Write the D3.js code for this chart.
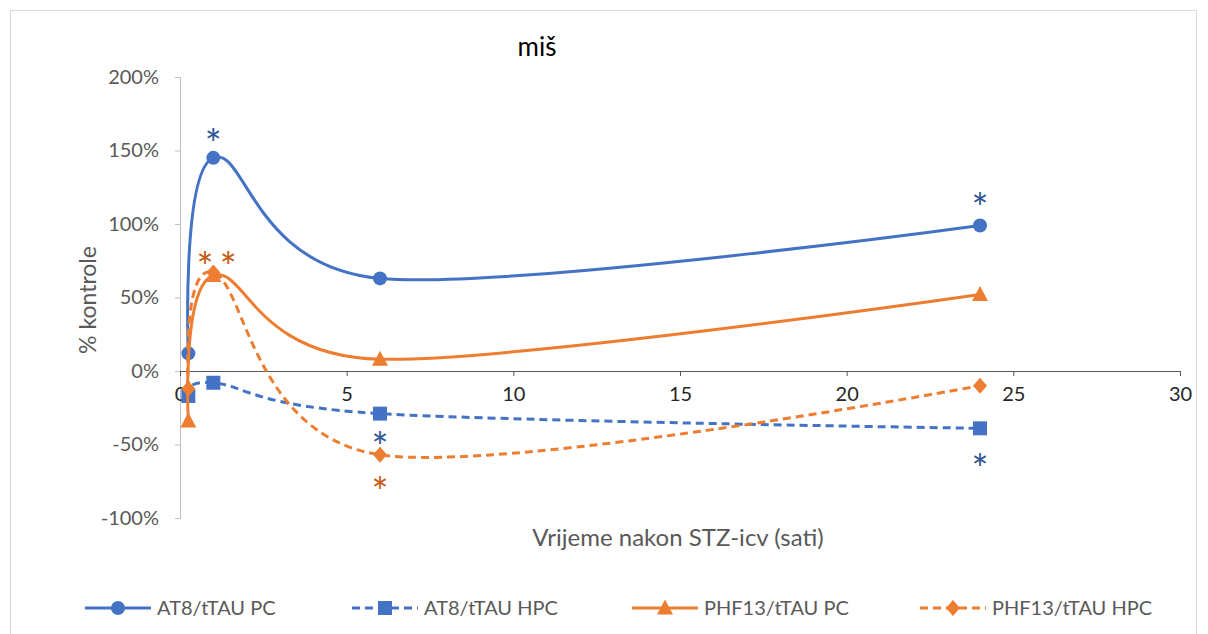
<!DOCTYPE html>
<html><head><meta charset="utf-8">
<script src="https://cdn.jsdelivr.net/npm/d3@7/dist/d3.min.js"></script>
<style>body{margin:0;background:#fff;} svg{display:block;}</style>
</head><body>
<script>
const hours = [0.25, 1, 6, 24];
const at8PC = [12, 145, 63, 99];
const at8HPC = [-17, -8, -29, -39];
const phf13PC = [-34, 65, 8, 52];
const phf13HPC = [-12, 67, -57, -10];
const seriesNames = ["AT8/tTAU PC", "AT8/tTAU HPC", "PHF13/tTAU PC", "PHF13/tTAU HPC"];
const xTicks = [0, 5, 10, 15, 20, 25, 30];
const yTicks = [-100, -50, 0, 50, 100, 150, 200];
const starX = [1, 24, 6, 24, 0.75, 1.45, 6];
const starY = [160, 116, -46, -61, 76, 76, -77];
const starSeries = [0, 0, 1, 1, 2, 2, 3];
const title = "miš";
const xTitle = "Vrijeme nakon STZ-icv (sati)";
const yTitle = "% kontrole";

const W = 1208, H = 634;
const svg = d3.select("body").append("svg").attr("width", W).attr("height", H);
svg.append("rect").attr("x", 10.5).attr("y", 10.5).attr("width", 1186).attr("height", 640)
  .attr("fill", "#fff").attr("stroke", "#d9d9d9").attr("stroke-width", 1);

const x = d3.scaleLinear().domain([0, 30]).range([180, 1180]);
const y = d3.scaleLinear().domain([-100, 200]).range([518, 77]);
const font = "Lato, 'Open Sans', sans-serif";

const colors = ["#4472C4", "#4472C4", "#ED7D31", "#ED7D31"];
const starColors = ["#2F5597", "#2F5597", "#C55A11", "#C55A11"];
const dashes = [null, "8,5", null, "8,5"];
const shapes = ["circle", "square", "triangle", "diamond"];
const allVals = [at8PC, at8HPC, phf13PC, phf13HPC];

// y axis
const yAxis = svg.append("g").attr("transform", `translate(${x(0)},0)`)
  .call(d3.axisLeft(y).tickValues(yTicks).tickSize(5).tickFormat(d => d + "%"));
yAxis.select(".domain").attr("stroke", "#bfbfbf").attr("stroke-width", 1);
yAxis.selectAll(".tick line").attr("stroke", "#bfbfbf");
yAxis.selectAll(".tick text").attr("font-family", font).attr("font-size", 20).attr("fill", "#595959").attr("x", -21);

// x axis at 0%
const xAxis = svg.append("g").attr("transform", `translate(0,${y(0)})`)
  .call(d3.axisBottom(x).tickValues(xTicks).tickSize(5).tickSizeOuter(0));
xAxis.select(".domain").attr("stroke", "#595959").attr("stroke-width", 1);
xAxis.selectAll(".tick line").attr("stroke", "#595959");
xAxis.selectAll(".tick text").attr("font-family", font).attr("font-size", 20).attr("fill", "#262626").attr("y", 16).attr("dy", "0.71em");

// titles
svg.append("text").attr("x", 537).attr("y", 56).attr("text-anchor", "middle")
  .attr("font-family", font).attr("font-size", 26).attr("fill", "#000").text(title);
svg.append("text").attr("x", 678).attr("y", 546).attr("text-anchor", "middle")
  .attr("font-family", font).attr("font-size", 24).attr("fill", "#595959").text(xTitle);
svg.append("text").attr("transform", `translate(96,300) rotate(-90)`).attr("text-anchor", "middle")
  .attr("font-family", font).attr("font-size", 23).attr("fill", "#595959").text(yTitle);

const line = d3.line().x(d => x(d[0])).y(d => y(d[1])).curve(d3.curveCardinal.tension(0));

function marker(g, shape, cx, cy, color) {
  if (shape === "circle") g.append("circle").attr("cx", cx).attr("cy", cy).attr("r", 7).attr("fill", color);
  else if (shape === "square") g.append("rect").attr("x", cx - 7).attr("y", cy - 7).attr("width", 14).attr("height", 14).attr("fill", color);
  else if (shape === "triangle") g.append("path").attr("d", `M${cx},${cy-8.5}L${cx+8},${cy+6.5}L${cx-8},${cy+6.5}Z`).attr("fill", color);
  else g.append("path").attr("d", `M${cx},${cy-8}L${cx+7},${cy}L${cx},${cy+8}L${cx-7},${cy}Z`).attr("fill", color);
}

allVals.forEach((vals, i) => {
  const pts = hours.map((h, j) => [h, vals[j]]);
  svg.append("path").attr("d", line(pts)).attr("fill", "none").attr("stroke", colors[i])
    .attr("stroke-width", 3).attr("stroke-dasharray", dashes[i]);
  const g = svg.append("g");
  pts.forEach(p => marker(g, shapes[i], x(p[0]), y(p[1]), colors[i]));
});

// asterisks
starX.forEach((sx, i) => {
  svg.append("text").attr("x", x(sx)).attr("y", y(starY[i]) + 23).attr("text-anchor", "middle")
    .attr("font-family", font).attr("font-size", 40).attr("fill", starColors[starSeries[i]]).text("*");
});

// legend
const legX = [85, 352, 632, 920];
const legY = 608;
seriesNames.forEach((name, i) => {
  const g = svg.append("g");
  g.append("line").attr("x1", legX[i]).attr("x2", legX[i] + 66).attr("y1", legY).attr("y2", legY)
    .attr("stroke", colors[i]).attr("stroke-width", 3).attr("stroke-dasharray", dashes[i]);
  marker(g, shapes[i], legX[i] + 33, legY, colors[i]);
  g.append("text").attr("x", legX[i] + 72).attr("y", legY + 7).attr("font-family", font)
    .attr("font-size", 20).attr("fill", "#595959").text(name);
});
</script>
</body></html>
